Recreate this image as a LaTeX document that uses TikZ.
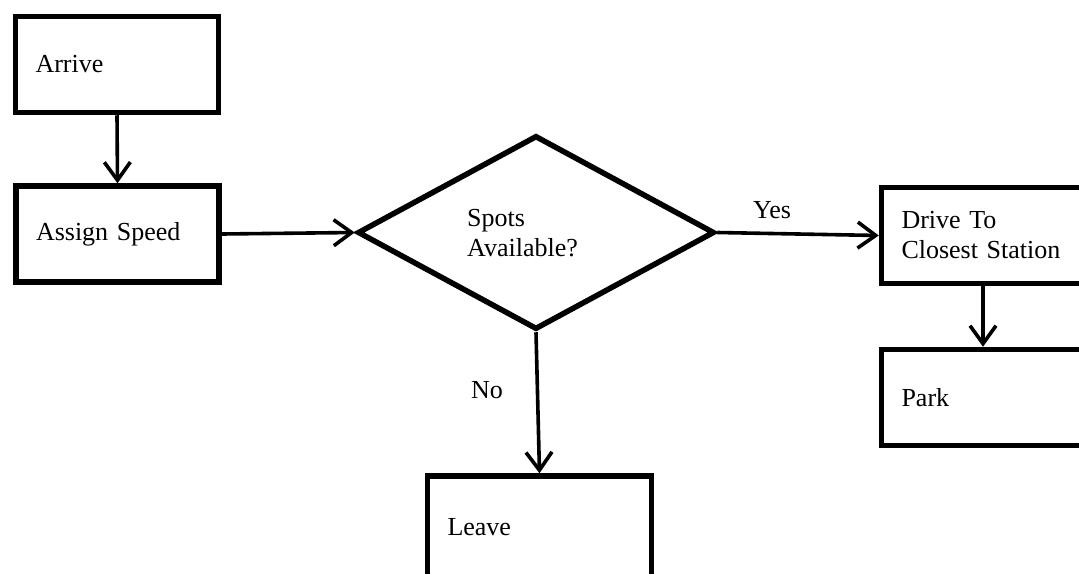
\documentclass[tikz,border=0pt]{standalone}
\usepackage{fontspec}
\setmainfont{Liberation Serif}
\usetikzlibrary{shapes.geometric,arrows.meta}
\begin{document}
\begin{tikzpicture}[x=1pt,y=-1pt,
  every node/.style={font=\fontsize{26}{30}\selectfont},
  procbox/.style={draw,line width=5.5pt,rectangle,inner xsep=20pt,inner ysep=0pt,
    minimum width=#1,text width=#1-40pt,minimum height=96pt,align=left},
  procbox/.default=203pt,
  decision/.style={draw,line width=5.5pt,diamond,minimum width=357pt,minimum height=194pt,inner sep=0pt},
  flow/.style={line width=3.6pt,-{Straight Barb[length=18pt,width=26pt]}},
  tag/.style={inner sep=0pt,anchor=base}]
  \useasboundingbox (0,0) rectangle (1079,573);
  \clip (0,0) rectangle (1079,573);

  % process steps
  \node[procbox] (arrive) at (117,64.5) {Arrive};
  \node[procbox] (assign) at (117.5,234) {Assign Speed};
  \node[decision] (spots) at (536,232.5) {};
  \node[inner sep=0pt,anchor=west,align=left] (spotstext) at (467,233) {Spots\\Available?};
  \node[procbox] (drive) at (983,235.5) {Drive To\\Closest Station};
  \node[procbox] (park) at (983,397.5) {Park};
  \node[procbox=224pt,minimum height=102pt] (leave) at (539.5,527) {Leave};

  % connectors
  \draw[flow] (arrive.south) -- (assign.north);
  \draw[flow] (assign.east) -- (spots.west);
  \draw[flow] (spots.east) -- (drive.west);
  \draw[flow] (drive.south) -- (park.north);
  \draw[flow] (spots.south) -- (leave.north);

  % branch labels
  \node[tag] (yes) at (772,218) {Yes};
  \node[tag] (no) at (487,398) {No};
\end{tikzpicture}
\end{document}
